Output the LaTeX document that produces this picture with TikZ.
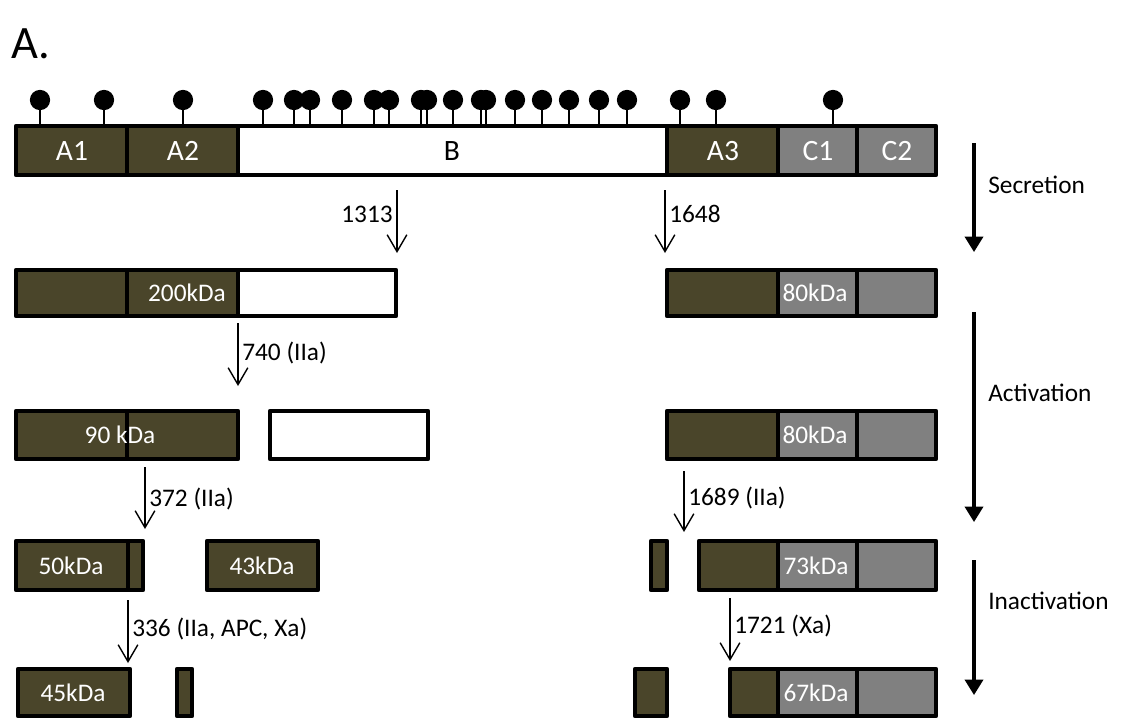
\documentclass[tikz,border=0pt]{standalone}
\usepackage{fontspec}
\setmainfont{Carlito}
\usepackage{xcolor}
\usetikzlibrary{arrows.meta}
\definecolor{domolive}{RGB}{74,69,42}
\definecolor{domgray}{RGB}{128,128,128}

\begin{document}
\begin{tikzpicture}[x=0.025cm, y=-0.025cm,
    every node/.style={font=\fontsize{18}{21}\selectfont, inner sep=0pt},
    heavy/.style={fill=domolive, draw=black, line width=3.4pt, line join=round},
    light/.style={fill=domgray, draw=black, line width=3.4pt, line join=round},
    bare/.style={fill=white, draw=black, line width=3.4pt, line join=round},
    inlabel/.style={text=white},
    domlabel/.style={font=\fontsize{21}{24}\selectfont},
    cut/.style={line width=1pt, -{Straight Barb[length=12pt, width=14pt]}},
    stage/.style={line width=2.2pt, -{Triangle[length=11pt, width=13pt]}}]
    \useasboundingbox (0,0) rectangle (1123,719);

    % title
    \node[font=\fontsize{33}{36}\selectfont] (title) at (31,44) {A.};

    % glycosylation sites
    \foreach \gx in {40,104,183,263,294,310,342,374,389,421,427,453,481,486,515,542,569,599,627,680,716,833} {
        \draw[line width=1.2pt] (\gx,108) -- (\gx,125);
        \fill (\gx,100) circle[radius=7.2pt];
    }

    % full chain
    \draw[heavy] (16,126) rectangle (127,175);
    \draw[heavy] (127,126) rectangle (238,175);
    \draw[bare]  (238,126) rectangle (667,175);
    \draw[heavy] (667,126) rectangle (778,175);
    \draw[light] (778,126) rectangle (857,175);
    \draw[light] (857,126) rectangle (936,175);
    \node[domlabel, inlabel] (lA1) at (72,151) {A1};
    \node[domlabel, inlabel] (lA2) at (183,151) {A2};
    \node[domlabel] (lB) at (452,151) {B};
    \node[domlabel, inlabel] (lA3) at (723,151) {A3};
    \node[domlabel, inlabel] (lC1) at (818,151) {C1};
    \node[domlabel, inlabel] (lC2) at (897,151) {C2};

    % secreted chains
    \draw[heavy] (16,270) rectangle (127,316);
    \draw[heavy] (127,270) rectangle (238,316);
    \draw[bare]  (238,270) rectangle (396,316);
    \draw[heavy] (667,270) rectangle (778,316);
    \draw[light] (778,270) rectangle (857,316);
    \draw[light] (857,270) rectangle (936,316);
    \node[inlabel] (l200) at (187,293) {200kDa};
    \node[inlabel] (l80a) at (815,293) {80kDa};

    % activated chains
    \draw[heavy] (16,411) rectangle (127,459);
    \draw[heavy] (127,411) rectangle (238,459);
    \draw[bare]  (270,411) rectangle (428,459);
    \draw[heavy] (667,411) rectangle (778,459);
    \draw[light] (778,411) rectangle (857,459);
    \draw[light] (857,411) rectangle (936,459);
    \node[inlabel] (l90) at (120,435) {90 kDa};
    \node[inlabel] (l80b) at (815,435) {80kDa};

    % first inactivation
    \draw[heavy] (16,541) rectangle (128,590);
    \draw[heavy] (128,541) rectangle (143,590);
    \draw[heavy] (207,541) rectangle (318,590);
    \draw[heavy] (651,541) rectangle (667,590);
    \draw[heavy] (699,541) rectangle (778,590);
    \draw[light] (778,541) rectangle (857,590);
    \draw[light] (857,541) rectangle (936,590);
    \node[inlabel] (l50) at (71,566) {50kDa};
    \node[inlabel] (l43) at (262,566) {43kDa};
    \node[inlabel] (l73) at (816,566) {73kDa};

    % second inactivation
    \draw[heavy] (18,669) rectangle (130,716);
    \draw[heavy] (177,669) rectangle (192,716);
    \draw[heavy] (635,669) rectangle (667,716);
    \draw[heavy] (730,669) rectangle (778,716);
    \draw[light] (778,669) rectangle (857,716);
    \draw[light] (857,669) rectangle (936,716);
    \node[inlabel] (l45) at (73,693) {45kDa};
    \node[inlabel] (l67) at (816,693) {67kDa};

    % cleavage sites
    \coordinate (s1313) at (397,190);
    \coordinate (e1313) at (397,253);
    \draw[cut] (s1313) -- (e1313);
    \node[anchor=east] (l1313) at (393,214) {1313};

    \coordinate (s1648) at (665,190);
    \coordinate (e1648) at (665,253);
    \draw[cut] (s1648) -- (e1648);
    \node[anchor=west] (l1648) at (669,214) {1648};

    \coordinate (s740) at (238,323);
    \coordinate (e740) at (238,386);
    \draw[cut] (s740) -- (e740);
    \node[anchor=west] (l740) at (242,353) {740 (IIa)};

    \coordinate (s372) at (145,467);
    \coordinate (e372) at (145,529);
    \draw[cut] (s372) -- (e372);
    \node[anchor=west] (l372) at (149,499) {372 (IIa)};

    \coordinate (s1689) at (684,471);
    \coordinate (e1689) at (684,532);
    \draw[cut] (s1689) -- (e1689);
    \node[anchor=west] (l1689) at (688,498) {1689 (IIa)};

    \coordinate (s336) at (128,600);
    \coordinate (e336) at (128,663);
    \draw[cut] (s336) -- (e336);
    \node[anchor=west] (l336) at (132,629) {336 (IIa, APC, Xa)};

    \coordinate (s1721) at (730,598);
    \coordinate (e1721) at (730,661);
    \draw[cut] (s1721) -- (e1721);
    \node[anchor=west] (l1721) at (734,626) {1721 (Xa)};

    % stages
    \coordinate (secS) at (974,143);
    \coordinate (secE) at (974,252);
    \draw[stage] (secS) -- (secE);
    \node[anchor=west] (lsec) at (988,185) {Secretion};

    \coordinate (actS) at (974,312);
    \coordinate (actE) at (974,522);
    \draw[stage] (actS) -- (actE);
    \node[anchor=west] (lact) at (988,393) {Activation};

    \coordinate (inaS) at (974,560);
    \coordinate (inaE) at (974,695);
    \draw[stage] (inaS) -- (inaE);
    \node[anchor=west] (lina) at (988,601) {Inactivation};
\end{tikzpicture}
\end{document}
